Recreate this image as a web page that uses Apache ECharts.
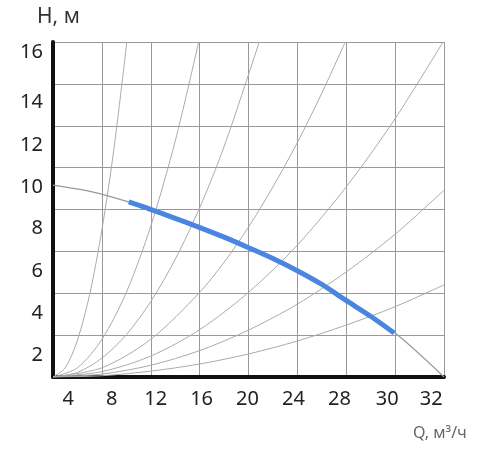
<!DOCTYPE html><html><head><meta charset="utf-8"><script src="https://cdn.jsdelivr.net/npm/echarts@6/dist/echarts.min.js"></script></head><body style="margin:0"><div id="c" style="width:500px;height:450px"></div><script>
const xTickLabels=['4','8','12','16','20','24','28','30','32'];
const xTickPos=[0.31,1.2,2.1,3.04,3.98,4.92,5.86,6.84,7.74];
const yTickLabels=['2','4','6','8','10','12','14','16'];
const yTickPos=[0.53,1.53,2.53,3.56,4.54,5.54,6.56,7.76];
const pumpCurve=[[0,4.58],[0.8,4.42],[1.55,4.18],[2.3,3.9],[3,3.58],[4,3.1],[5,2.55],[6,1.84],[7,1.05],[8,0]];
const workCurve=[[1.55,4.18],[1.98,4.01],[2.5,3.79],[2.98,3.58],[3.5,3.34],[3.98,3.10],[4.5,2.83],[4.98,2.55],[5.5,2.21],[5.98,1.84],[6.5,1.45],[6.98,1.05]];
const sysCurves=[
[[0,0],[0.25,0.22],[0.5,0.88],[0.75,1.97],[1,3.51],[1.25,5.48],[1.51,8]],
[[0,0],[0.5,0.22],[1,0.9],[1.5,2.02],[2,3.6],[2.5,5.63],[2.98,8]],
[[0,0],[0.5,0.11],[1,0.45],[1.5,1.01],[2,1.8],[2.5,2.81],[3,4.04],[3.5,5.5],[4.22,8]],
[[0,0],[1,0.22],[2,0.9],[3,2.02],[3.5,2.74],[4,3.58],[4.5,4.54],[5,5.6],[5.5,6.78],[5.98,8]],
[[0,0],[1,0.13],[2,0.5],[3,1.13],[4,2.02],[5,3.15],[6,4.54],[7,6.17],[7.98,8]],
[[0,0],[1,0.07],[2,0.28],[3,0.63],[4,1.12],[5,1.74],[6,2.51],[7,3.41],[8,4.46]],
[[0,0],[1,0.03],[2,0.14],[3,0.31],[4,0.55],[5,0.86],[6,1.24],[7,1.68],[8,2.2]]
];
const thin={type:'line',symbol:'none',smooth:0.3,silent:true,lineStyle:{color:'#aaa',width:1}};
const series=sysCurves.map(d=>Object.assign({},thin,{data:d}));
series.push(Object.assign({},thin,{data:pumpCurve,lineStyle:{color:'#999',width:1.2}}));
series.push({type:'line',symbol:'none',smooth:0.3,data:workCurve,lineStyle:{color:'#4a86e0',width:5}});
const chart=echarts.init(document.getElementById('c'));
chart.setOption({animation:false,
grid:{left:53,right:56,top:42,bottom:73},
title:[{text:'H, м',left:32,top:2,textStyle:{fontSize:21,fontWeight:'normal',color:'#333',fontFamily:'Noto Sans'}},
{text:'Q, м³/ч',left:408,top:420,textStyle:{fontSize:16,fontWeight:'normal',color:'#666',fontFamily:'Noto Sans'}}],
xAxis:{type:'value',min:0,max:8,interval:1,
axisLine:{lineStyle:{color:'#111',width:4}},axisTick:{show:false},
splitLine:{lineStyle:{color:'#999',width:1}},
axisLabel:{customValues:xTickPos,margin:12,fontSize:20,color:'#222',fontFamily:'Noto Sans',formatter:v=>{const i=xTickPos.indexOf(v);return i>=0?xTickLabels[i]:'';}}},
yAxis:{type:'value',min:0,max:8,interval:1,
axisLine:{show:true,lineStyle:{color:'#111',width:4}},axisTick:{show:false},
splitLine:{lineStyle:{color:'#999',width:1}},
axisLabel:{customValues:yTickPos,margin:10,fontSize:20,color:'#222',fontFamily:'Noto Sans',formatter:v=>{const i=yTickPos.indexOf(v);return i>=0?yTickLabels[i]:'';}}},
series:series});
</script></body></html>
